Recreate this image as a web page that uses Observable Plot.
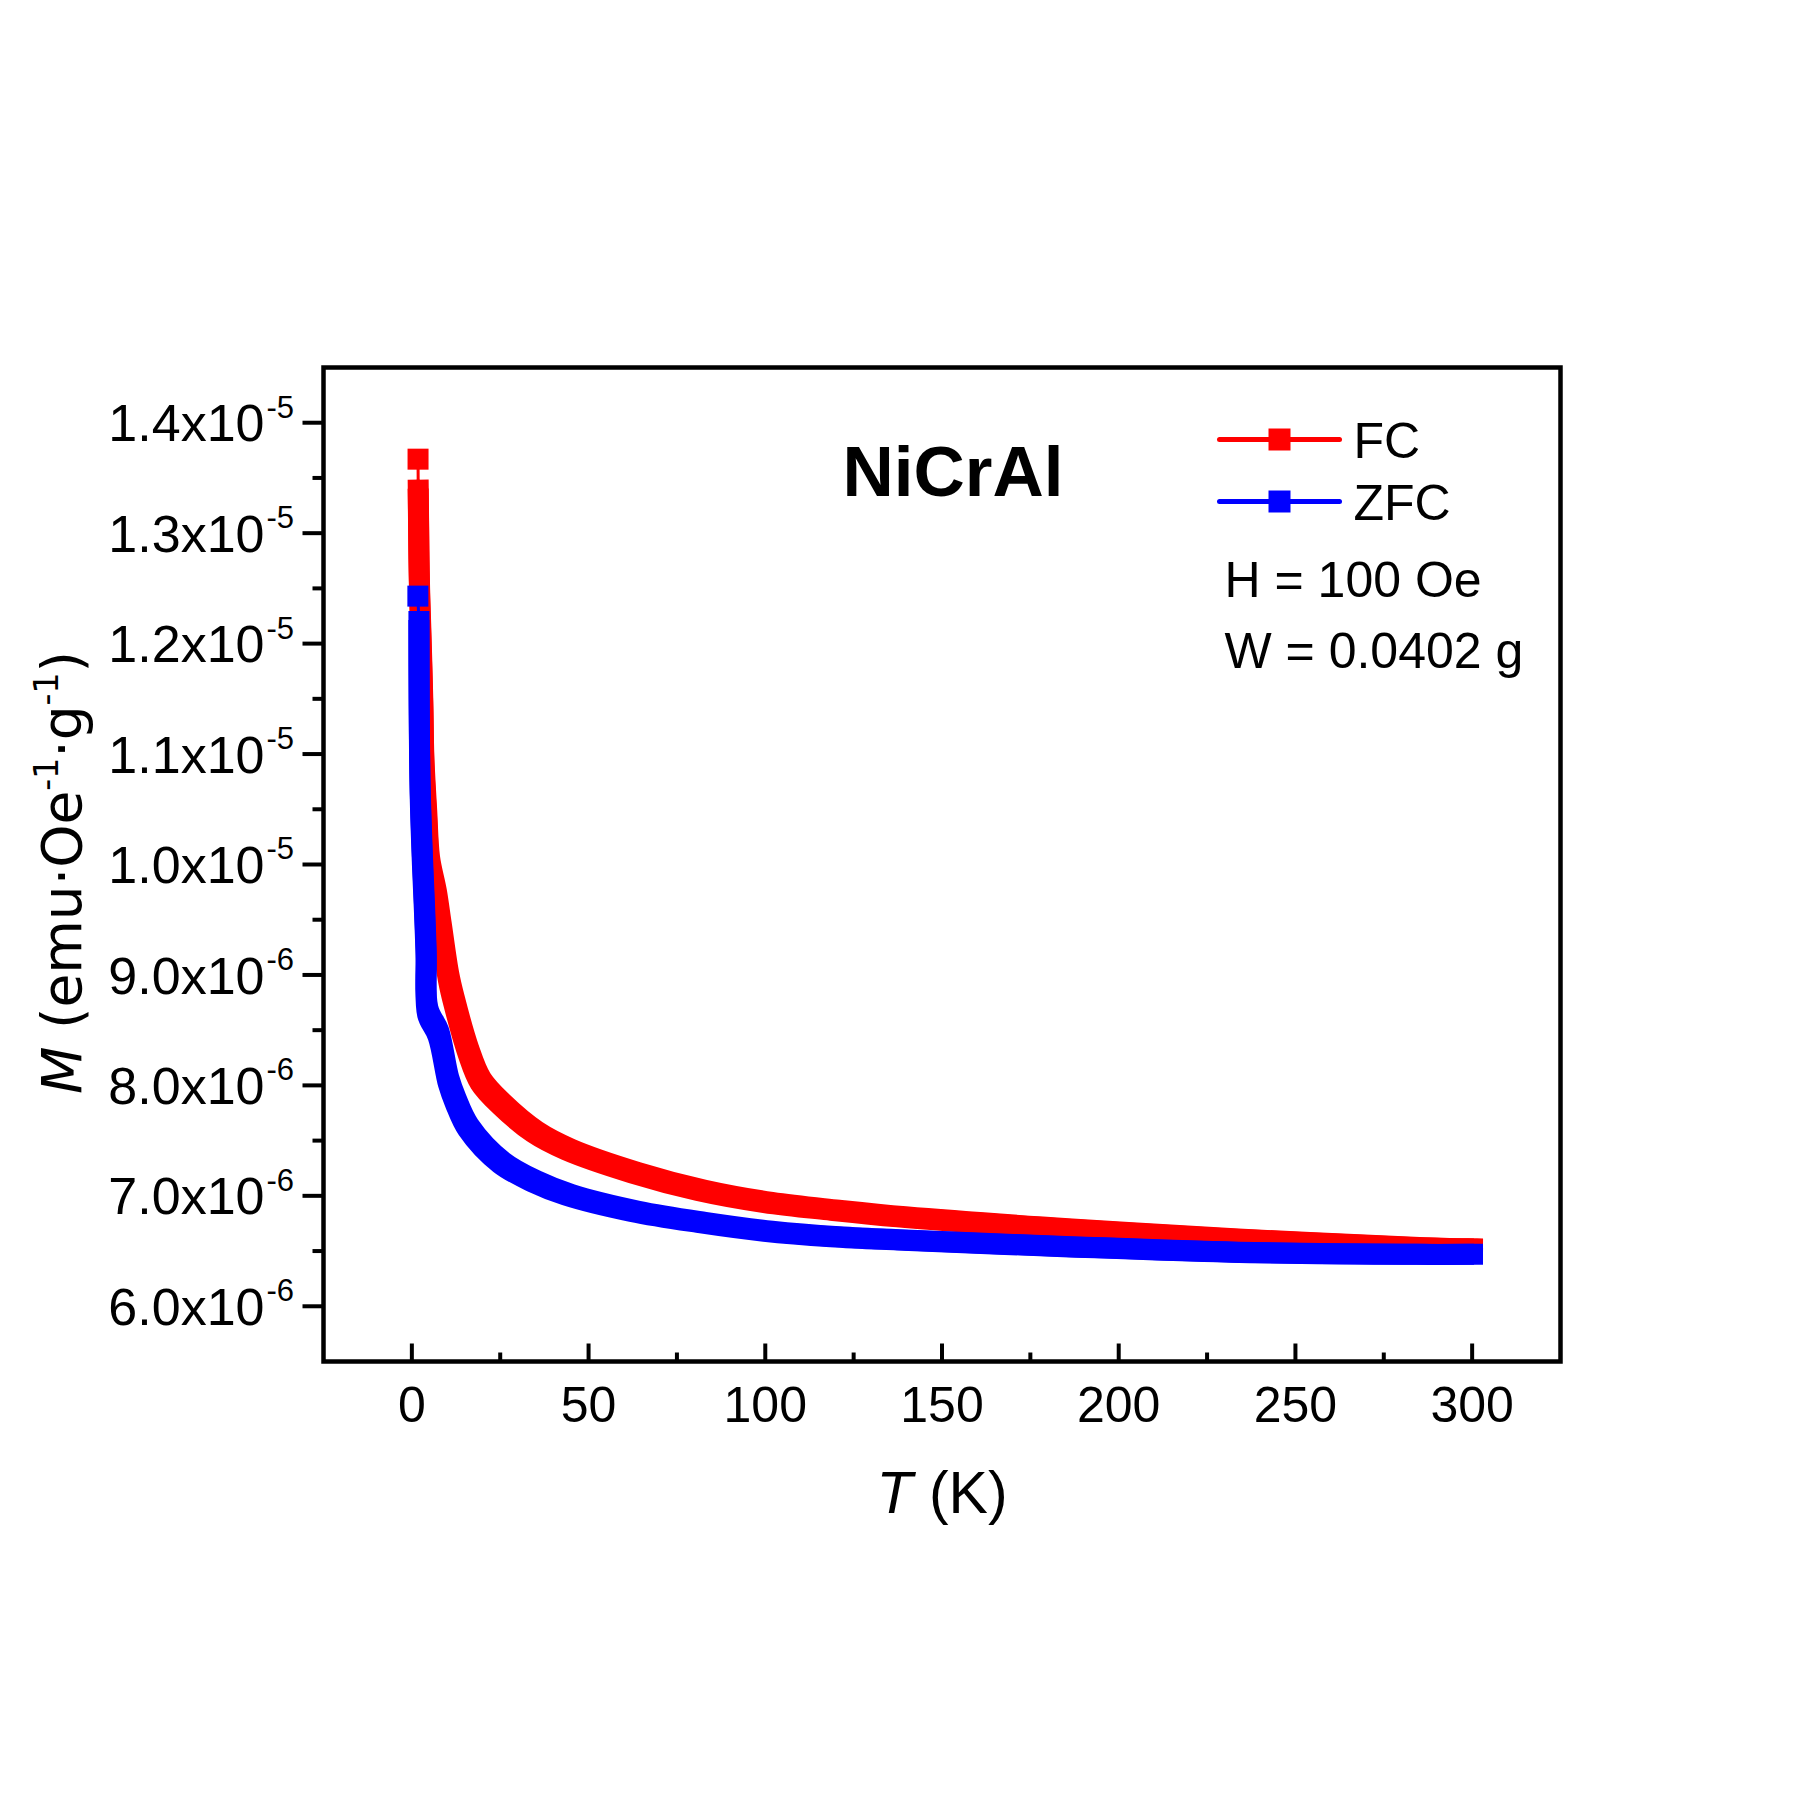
<!DOCTYPE html>
<html>
<head>
<meta charset="utf-8">
<script src="https://cdn.jsdelivr.net/npm/d3@7"></script>
<script src="https://cdn.jsdelivr.net/npm/@observablehq/plot@0.6"></script>
<style>
  body { margin: 0; background: #fff; }
  #chart svg { display: block; }
</style>
</head>
<body>
<div id="chart"></div>
<script>
// ---- Data ----
// FC (field cooled): temperature T (K) and magnetization M (emu·Oe^-1·g^-1)
const fcT = [1.75, 1.8, 1.9, 2.0, 2.2, 2.5, 3.1, 3.4, 4.2, 5.0, 6.9, 8.3, 10.4, 11.9, 16.0, 19.5, 25.4, 34.8, 44.3, 63.1, 81.9, 100.8, 119.7, 138.5, 185.6, 232.6, 285.4, 300.1];
const fcM = [13.67e-6, 13.39e-6, 13.10e-6, 12.80e-6, 12.45e-6, 12.14e-6, 11.45e-6, 10.94e-6, 10.45e-6, 10.03e-6, 9.73e-6, 9.43e-6, 8.98e-6, 8.77e-6, 8.31e-6, 8.04e-6, 7.83e-6, 7.58e-6, 7.42e-6, 7.21e-6, 7.05e-6, 6.94e-6, 6.87e-6, 6.81e-6, 6.70e-6, 6.61e-6, 6.53e-6, 6.52e-6];
// ZFC (zero-field cooled)
const zfcT = [1.7, 2.0, 2.07, 2.35, 3.0, 3.6, 4.05, 4.5, 7.5, 10.4, 12.4, 16.0, 25.4, 34.8, 44.3, 63.1, 81.9, 100.8, 119.7, 138.5, 185.6, 232.6, 285.4, 300.1];
const zfcM = [12.43e-6, 12.20e-6, 11.45e-6, 10.67e-6, 10.03e-6, 9.58e-6, 9.19e-6, 8.67e-6, 8.47e-6, 8.04e-6, 7.86e-6, 7.62e-6, 7.30e-6, 7.13e-6, 7.01e-6, 6.86e-6, 6.76e-6, 6.68e-6, 6.63e-6, 6.60e-6, 6.54e-6, 6.49e-6, 6.47e-6, 6.47e-6];

// Axes
const xDomain = [-25, 325];
const yDomain = [5.5e-6, 14.5e-6];
const xMajor = [0, 50, 100, 150, 200, 250, 300];
const xMinor = [25, 75, 125, 175, 225, 275];
const yMajor = [6e-6, 7e-6, 8e-6, 9e-6, 10e-6, 11e-6, 12e-6, 13e-6, 14e-6];
const yMinor = [6.5e-6, 7.5e-6, 8.5e-6, 9.5e-6, 10.5e-6, 11.5e-6, 12.5e-6, 13.5e-6];
const yLabelMain = ["6.0x10", "7.0x10", "8.0x10", "9.0x10", "1.0x10", "1.1x10", "1.2x10", "1.3x10", "1.4x10"];
const yLabelExp = ["-6", "-6", "-6", "-6", "-5", "-5", "-5", "-5", "-5"];

// Legend / annotations
const seriesNames = ["FC", "ZFC"];
const seriesColors = ["#ff0000", "#0000ff"];
const title = "NiCrAl";
const notes = ["H = 100 Oe", "W = 0.0402 g"];

// ---- Build ----
const fc = fcT.map((T, i) => ({T, M: fcM[i]}));
const zfc = zfcT.map((T, i) => ({T, M: zfcM[i]}));

const SANS = "'Liberation Sans', Arial, Helvetica, sans-serif";
const WIDE = "'DejaVu Sans', Verdana, sans-serif";

const vTick = len => ({draw(ctx) { ctx.moveTo(0, 0); ctx.lineTo(0, -len); }});
const hTick = len => ({draw(ctx) { ctx.moveTo(0, 0); ctx.lineTo(-len, 0); }});
const hBar = len => ({draw(ctx) { ctx.moveTo(-len / 2, 0); ctx.lineTo(len / 2, 0); }});

const SQ = Math.sqrt(21 * 21 / Math.PI); // square marker of side ~21px

function band(data, color) {
  const offs = [[-4.5, -4.5], [4.5, -4.5], [-4.5, 4.5], [4.5, 4.5], [0, 0]];
  const body = data.slice(1);
  return [
    Plot.line(data, {x: "T", y: "M", stroke: color, strokeWidth: 3}),
    ...offs.map(([dx, dy]) => Plot.line(body, {
      x: "T", y: "M", stroke: color, strokeWidth: 12, curve: "catmull-rom",
      strokeLinecap: "square", strokeLinejoin: "round", dx, dy
    })),
    Plot.dot([data[0]], {x: "T", y: "M", symbol: "square", r: SQ, fill: color, stroke: "none"})
  ];
}

const legendMarks = seriesNames.flatMap((name, i) => [
  Plot.dot([name], {frameAnchor: "top-right", dx: -281, dy: 72 + 62 * i,
    symbol: hBar(120), stroke: seriesColors[i], strokeWidth: 5, strokeLinecap: "round", fill: "none"}),
  Plot.dot([name], {frameAnchor: "top-right", dx: -281, dy: 72 + 62 * i,
    symbol: "square", r: Math.sqrt(22 * 22 / Math.PI), fill: seriesColors[i], stroke: "none"}),
  Plot.text([name], {frameAnchor: "top-right", dx: -207, dy: 74 + 62 * i, lineAnchor: "middle",
    text: d => d, textAnchor: "start", fontSize: 50, fontFamily: SANS, fill: "black"})
]);

const noteMarks = notes.map((t, i) => Plot.text([t], {frameAnchor: "top-right", dx: -336, dy: 213 + 71 * i, lineAnchor: "middle",
  text: d => d, textAnchor: "start", fontSize: 50, fontFamily: SANS, fill: "black"}));

const chart = Plot.plot({
  width: 1800,
  height: 1800,
  marginLeft: 323,
  marginRight: 240,
  marginTop: 367,
  marginBottom: 439,
  style: {fontFamily: SANS, background: "white", overflow: "visible"},
  x: {domain: xDomain, axis: null},
  y: {domain: yDomain, axis: null},
  marks: [
    ...band(fc, seriesColors[0]),
    ...band(zfc, seriesColors[1]),
    // frame
    Plot.frame({stroke: "black", strokeWidth: 4.5}),
    // x ticks (inward)
    Plot.dot(xMajor, {x: d => d, frameAnchor: "bottom", symbol: vTick(18), stroke: "black", strokeWidth: 4, fill: "none"}),
    Plot.dot(xMinor, {x: d => d, frameAnchor: "bottom", symbol: vTick(9), stroke: "black", strokeWidth: 4, fill: "none"}),
    // y ticks (outward)
    Plot.dot(yMajor, {y: d => d, frameAnchor: "left", symbol: hTick(21), stroke: "black", strokeWidth: 4, fill: "none"}),
    Plot.dot(yMinor, {y: d => d, frameAnchor: "left", symbol: hTick(11), stroke: "black", strokeWidth: 4, fill: "none"}),
    // x tick labels
    Plot.text(xMajor, {x: d => d, frameAnchor: "bottom", dy: 44, lineAnchor: "middle", text: d => String(d), fontSize: 50, fontFamily: SANS, fill: "black"}),
    // y tick labels
    Plot.text(yMajor, {y: d => d, frameAnchor: "left", dx: -59, dy: 2, lineAnchor: "middle", text: (d, i) => yLabelMain[i], textAnchor: "end", fontSize: 52, fontFamily: SANS, fill: "black"}),
    Plot.text(yMajor, {y: d => d, frameAnchor: "left", dx: -57, dy: -15, lineAnchor: "middle", text: (d, i) => yLabelExp[i], textAnchor: "start", fontSize: 31, fontFamily: SANS, fill: "black"}),
    // axis titles (rich text filled in below)
    Plot.text(["T (K)"], {frameAnchor: "bottom", dy: 133, lineAnchor: "middle", textAnchor: "middle", text: d => d, fontSize: 59, fontFamily: SANS, fill: "black"}),
    Plot.text(["M (emu·Oe-1·g-1)"], {frameAnchor: "left", dx: -260, dy: 8, rotate: -90, lineAnchor: "middle", textAnchor: "middle", text: d => d, fontSize: 55, fontFamily: WIDE, fill: "black"}),
    // title
    Plot.text([title], {frameAnchor: "top", dx: 11, dy: 106, lineAnchor: "middle", text: d => d, fontSize: 71, fontWeight: "bold", fontFamily: SANS, fill: "black"}),
    ...legendMarks,
    ...noteMarks
  ]
});

// Rich text for the axis titles (italic symbols, superscripts)
function rich(content, parts) {
  const t = d3.select(chart).selectAll("text").filter(function() { return this.textContent === content; });
  t.text(null);
  let shift = 0;
  for (const p of parts) {
    const ts = t.append("tspan").text(p.t);
    if (p.italic) ts.attr("font-style", "italic");
    const target = p.sup ? -0.42 : 0;
    const dy = target - shift;
    if (p.sup) ts.attr("font-size", "0.6em");
    if (dy !== 0) ts.attr("dy", (p.sup ? dy / 0.6 : dy) + "em");
    shift = target;
  }
}
rich("T (K)", [{t: "T", italic: true}, {t: " (K)"}]);
rich("M (emu·Oe-1·g-1)", [{t: "M", italic: true}, {t: " (emu·Oe"}, {t: "-1", sup: true}, {t: "·g"}, {t: "-1", sup: true}, {t: ")"}]);

document.getElementById("chart").appendChild(chart);
</script>
</body>
</html>
